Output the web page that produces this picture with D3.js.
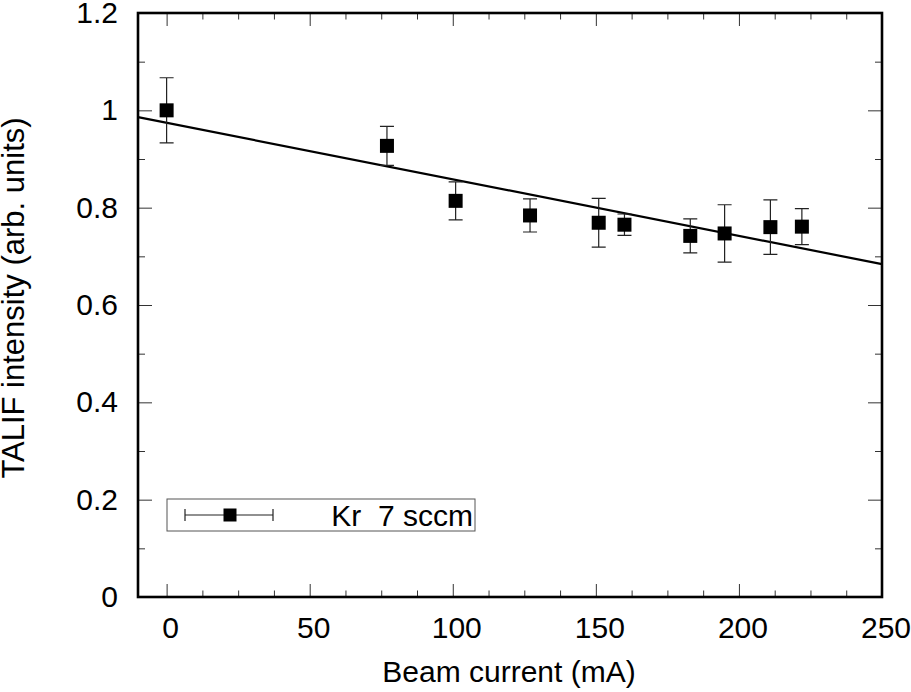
<!DOCTYPE html>
<html>
<head>
<meta charset="utf-8">
<script src="https://cdn.jsdelivr.net/npm/d3@7"></script>
<style>
  body { margin: 0; background: #fff; }
  text { font-family: "Liberation Sans", Arial, sans-serif; fill: #000; }
</style>
</head>
<body>
<div id="chart"></div>
<script>
// data
const beamCurrent = [0, 77, 101, 127, 151, 160, 183, 195, 211, 222];
const intensity   = [1.0, 0.927, 0.814, 0.784, 0.769, 0.765, 0.742, 0.747, 0.760, 0.761];
const errorBar    = [0.067, 0.040, 0.039, 0.034, 0.050, 0.022, 0.035, 0.059, 0.056, 0.037];
const fitLine     = [[-10, 0.986], [250, 0.684]];
const xTicks      = [0, 50, 100, 150, 200, 250];
const yTicks      = [0, 0.2, 0.4, 0.6, 0.8, 1.0, 1.2];
const seriesLabel = 'Kr  7 sccm';

const width = 911, height = 692;
const margin = {top: 13, right: 29, bottom: 95, left: 138};

const svg = d3.select('#chart')
    .append('svg')
    .attr('width', width)
    .attr('height', height);

const xScale = d3.scaleLinear()
    .domain([-10, 250])
    .range([margin.left, width - margin.right]);

const yScale = d3.scaleLinear()
    .domain([0, 1.2])
    .range([height - margin.bottom, margin.top]);

const x0 = xScale.range()[0], x1 = xScale.range()[1];
const y0 = yScale.range()[0], y1 = yScale.range()[1];

const xMinor = d3.range(0, 250.1, 12.5).filter(d => d % 50 !== 0);
const yMinor = d3.range(0.1, 1.2, 0.2);

function styleAxis(g) {
    g.select('.domain').remove();
    g.selectAll('line').attr('stroke', '#333').attr('stroke-width', 1);
    g.selectAll('text').style('font-size', '30px').attr('fill', '#000');
}

// bottom axis with labels
svg.append('g')
    .attr('transform', 'translate(0,' + y0 + ')')
    .call(d3.axisBottom(xScale).tickValues(xTicks).tickSize(-13).tickPadding(20).tickFormat(d3.format('d')))
    .call(styleAxis)
    .call(g => g.selectAll('text').attr('dx', 3.5));
svg.append('g')
    .attr('transform', 'translate(0,' + y0 + ')')
    .call(d3.axisBottom(xScale).tickValues(xMinor).tickSize(-6.5).tickFormat(''))
    .call(styleAxis);
// top mirror
svg.append('g')
    .attr('transform', 'translate(0,' + y1 + ')')
    .call(d3.axisTop(xScale).tickValues(xTicks).tickSize(-13).tickFormat(''))
    .call(styleAxis);
svg.append('g')
    .attr('transform', 'translate(0,' + y1 + ')')
    .call(d3.axisTop(xScale).tickValues(xMinor).tickSize(-6.5).tickFormat(''))
    .call(styleAxis);

// left axis with labels
svg.append('g')
    .attr('transform', 'translate(' + x0 + ',0)')
    .call(d3.axisLeft(yScale).tickValues(yTicks).tickSize(-14).tickPadding(20).tickFormat(d => d3.format('')(+d.toFixed(1))))
    .call(styleAxis);
svg.append('g')
    .attr('transform', 'translate(' + x0 + ',0)')
    .call(d3.axisLeft(yScale).tickValues(yMinor).tickSize(-7).tickFormat(''))
    .call(styleAxis);
// right mirror
svg.append('g')
    .attr('transform', 'translate(' + x1 + ',0)')
    .call(d3.axisRight(yScale).tickValues(yTicks).tickSize(-14).tickFormat(''))
    .call(styleAxis);
svg.append('g')
    .attr('transform', 'translate(' + x1 + ',0)')
    .call(d3.axisRight(yScale).tickValues(yMinor).tickSize(-7).tickFormat(''))
    .call(styleAxis);

// fit line
svg.append('path')
    .datum(fitLine)
    .attr('fill', 'none')
    .attr('stroke', '#000')
    .attr('stroke-width', 2.2)
    .attr('d', d3.line().x(d => xScale(d[0])).y(d => yScale(d[1])));

// error bars + squares
const points = beamCurrent.map((c, i) => ({x: c, y: intensity[i], e: errorBar[i]}));
const cap = 7, half = 7;

const bars = svg.append('g')
    .attr('stroke', '#222')
    .attr('stroke-width', 1.2);
bars.selectAll('.err')
    .data(points)
    .join('path')
    .attr('class', 'err')
    .attr('fill', 'none')
    .attr('d', d => {
        const px = xScale(d.x), top = yScale(d.y + d.e), bot = yScale(d.y - d.e);
        return 'M' + px + ',' + top + 'V' + bot +
            'M' + (px - cap) + ',' + top + 'H' + (px + cap) +
            'M' + (px - cap) + ',' + bot + 'H' + (px + cap);
    });

svg.selectAll('.pt')
    .data(points)
    .join('rect')
    .attr('class', 'pt')
    .attr('x', d => xScale(d.x) - half)
    .attr('y', d => yScale(d.y) - half)
    .attr('width', half * 2)
    .attr('height', half * 2)
    .attr('fill', '#000');

// frame
svg.append('rect')
    .attr('x', x0)
    .attr('y', y1)
    .attr('width', x1 - x0)
    .attr('height', y0 - y1)
    .attr('fill', 'none')
    .attr('stroke', '#000')
    .attr('stroke-width', 2.6);

// axis titles
svg.append('text')
    .attr('x', 509)
    .attr('y', 682)
    .attr('text-anchor', 'middle')
    .style('font-size', '30px')
    .text('Beam current (mA)');

svg.append('text')
    .attr('transform', 'translate(24,' + 298 + ') rotate(-90)')
    .attr('text-anchor', 'middle')
    .style('font-size', '31px')
    .text('TALIF intensity (arb. units)');

// legend
const legend = svg.append('g');
legend.append('rect')
    .attr('x', 167).attr('y', 499)
    .attr('width', 308).attr('height', 32)
    .attr('fill', '#fff')
    .attr('stroke', '#555')
    .attr('stroke-width', 1);
legend.append('path')
    .attr('fill', 'none')
    .attr('stroke', '#222')
    .attr('stroke-width', 1.2)
    .attr('d', 'M185,515H273M185,509V521M273,509V521');
legend.append('rect')
    .attr('x', 223.5).attr('y', 508.5)
    .attr('width', 13).attr('height', 13)
    .attr('fill', '#000');
legend.append('text')
    .attr('x', 473)
    .attr('y', 526)
    .attr('text-anchor', 'end')
    .style('font-size', '30px')
    .style('white-space', 'pre')
    .text(seriesLabel);
</script>
</body>
</html>
